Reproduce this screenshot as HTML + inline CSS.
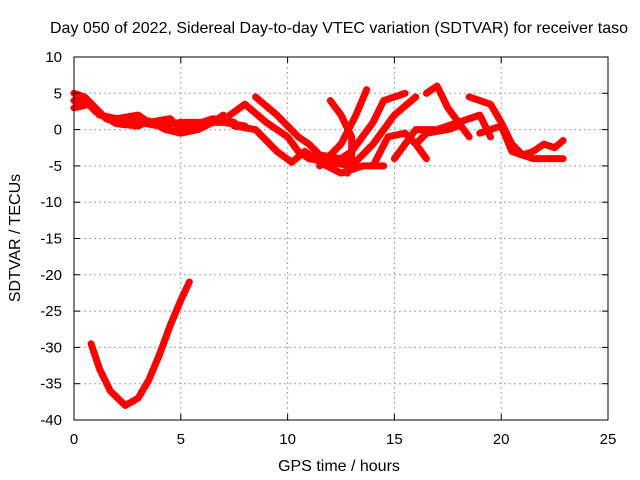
<!DOCTYPE html>
<html><head><meta charset="utf-8"><style>
body{margin:0;background:#fff}
svg{display:block;font-family:"Liberation Sans",sans-serif;font-size:15px}
</style></head><body>
<svg width="640" height="480">
<text x="339" y="33" text-anchor="middle" font-size="16" textLength="578" lengthAdjust="spacingAndGlyphs">Day 050 of 2022, Sidereal Day-to-day VTEC variation (SDTVAR) for receiver taso</text>
<g id="grid"></g>
<g id="marks"></g>
<rect x="74" y="57" width="534" height="363" fill="none" stroke="#000"/>
<g id="ticks"></g>
<text x="339" y="471" text-anchor="middle" font-size="16">GPS time / hours</text>
<text transform="translate(20,238) rotate(-90)" text-anchor="middle" font-size="16">SDTVAR / TECUs</text>
</svg>
<script>
const xTicks=[0,5,10,15,20,25];
const yTicks=[10,5,0,-5,-10,-15,-20,-25,-30,-35,-40];
const tracks=[
[[0,5],[0.5,4.5],[1,3],[1.5,1.5],[2,1],[3,1],[4,0.5],[5,1],[6,1],[7,1],[8,0.5]],
[[0,3],[0.7,3.5],[1.2,2],[2,1.5],[3,2],[3.5,1],[4.5,1.5],[5,0],[5.5,0.5],[6.5,1.5],[7.5,1]],
[[0,4],[0.6,3.8],[1,2.5],[2,0.8],[3,0.5],[3.5,1.2],[4.3,0],[5,-0.5],[5.8,0],[6.5,1],[7,2]],
[[7.3,2],[8,3.5],[9,1],[10,-1],[10.5,-3],[11,-4],[12,-4.5],[13,-5]],
[[8.5,4.5],[9.5,2],[10.5,-1],[11,-2],[11.5,-3.5],[12.5,-4],[13.2,-5]],
[[7.5,0.5],[8.5,0],[9.5,-3],[10.2,-4.5],[10.8,-3],[11.5,-4.5],[12.5,-6],[13.5,-5],[14.5,-5]],
[[12,4],[12.5,2],[13,-1],[13,-4],[12.8,-6]],
[[11.5,-5],[12.5,-2],[13.2,2],[13.7,5.5]],
[[12,-5],[13,-3],[14,1],[14.5,4],[15.5,5]],
[[13,-5],[14,-2],[15,2],[16,4.5]],
[[14,-5],[14.7,-1],[15.5,-0.5],[16,-2],[16.5,-4]],
[[15,-4],[16,0],[17,0],[18,1],[19,2],[19.5,-1]],
[[16,-2],[16.5,-0.5],[17.5,0],[18,0.5]],
[[16.5,5],[17,6],[17.5,3],[18,1],[18.5,-1]],
[[18.5,4.5],[19.5,3.5],[20,1],[20.5,-2],[21,-3.5],[21.5,-3],[22,-2],[22.5,-2.5],[22.9,-1.5]],
[[19,-0.5],[20,0.5],[20.5,-3],[21.5,-4],[22.5,-4],[22.9,-4]],
[[0.8,-29.5],[1.2,-33],[1.7,-36],[2.4,-38],[3,-37],[3.5,-34.5],[4,-31],[4.5,-27],[5,-23.5],[5.4,-21]]
];
const X=h=>74+h*534/25, Y=v=>57+(10-v)*363/50;
const NS='http://www.w3.org/2000/svg';
const grid=document.getElementById('grid'),ticks=document.getElementById('ticks'),marks=document.getElementById('marks');
function mk(tag,attrs,parent){const e=document.createElementNS(NS,tag);for(const k in attrs)e.setAttribute(k,attrs[k]);parent.appendChild(e);return e;}
xTicks.forEach(t=>{
 if(t>0&&t<25){const g=mk('line',{x1:X(t),x2:X(t),y1:57,y2:420,stroke:'#a0a0a0','stroke-dasharray':'2,3'},grid);
 
 }
 mk('line',{x1:X(t),x2:X(t),y1:420,y2:414,stroke:'#000'},ticks);
 mk('line',{x1:X(t),x2:X(t),y1:57,y2:63,stroke:'#000'},ticks);
 const l=mk('text',{x:X(t),y:444,'text-anchor':'middle'},ticks);l.textContent=t;
 
 
});
yTicks.forEach(t=>{
 if(t<10&&t>-40){const g=mk('line',{x1:74,x2:608,y1:Y(t),y2:Y(t),stroke:'#a0a0a0','stroke-dasharray':'2,3'},grid);
 
 }
 mk('line',{x1:74,x2:80,y1:Y(t),y2:Y(t),stroke:'#000'},ticks);
 mk('line',{x1:608,x2:602,y1:Y(t),y2:Y(t),stroke:'#000'},ticks);
 const l=mk('text',{x:62,y:Y(t)+5,'text-anchor':'end'},ticks);l.textContent=t;
 
 
});
tracks.forEach(tr=>{
 const p=mk('polyline',{points:tr.map(d=>X(d[0])+','+Y(d[1])).join(' '),fill:'none',stroke:'#f00','stroke-width':7,'stroke-linejoin':'round','stroke-linecap':'round'},marks);
 
 
});
</script>
</body></html>
